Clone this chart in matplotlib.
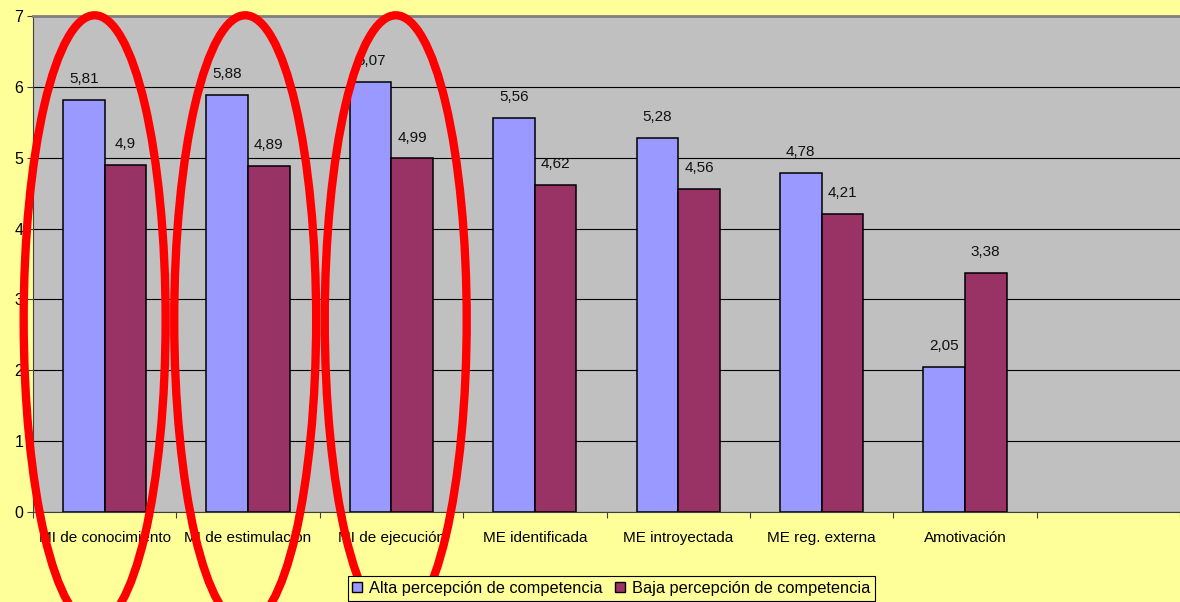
## Bar chart: motivation scores by perceived competence (alta vs baja)

import numpy as np
import matplotlib
matplotlib.use("Agg")
import matplotlib.pyplot as plt
from matplotlib.patches import Ellipse, Patch

categories = ["MI de conocimiento", "MI de estimulación", "MI de ejecución",
              "ME identificada", "ME introyectada", "ME reg. externa", "Amotivación"]
alta = [5.81, 5.88, 6.07, 5.56, 5.28, 4.78, 2.05]
baja = [4.9, 4.89, 4.99, 4.62, 4.56, 4.21, 3.38]
series_names = ["Alta percepción de competencia", "Baja percepción de competencia"]
circled = [0, 1, 2]

plt.rcParams['font.family'] = ['Liberation Sans', 'DejaVu Sans']

def fmt(v):
    return ("%g" % v).replace(".", ",")

fig = plt.figure(figsize=(11.8, 6.02), dpi=100, facecolor="#FFFF99")
ax = fig.add_axes([33/1180, 90/602, 1 - 33/1180, 496/602])
ax.set_facecolor("#C0C0C0")

x = np.arange(len(categories))
w = 0.29
b1 = ax.bar(x - w/2, alta, w, color="#9999FF", edgecolor="black", linewidth=1.1, zorder=3)
b2 = ax.bar(x + w/2, baja, w, color="#993366", edgecolor="black", linewidth=1.1, zorder=3)

for bars, vals in ((b1, alta), (b2, baja)):
    for r, v in zip(bars, vals):
        ax.annotate(fmt(v), (r.get_x() + r.get_width()/2, v), xytext=(0, 10),
                    textcoords="offset points", ha="center", va="bottom",
                    fontsize=11, color="#111111", zorder=4)

ax.set_xlim(-0.5, 7.46)
ax.set_ylim(0, 7)
ax.set_yticks(range(8))
ax.yaxis.grid(True, color="black", linewidth=0.8, zorder=1)
ax.tick_params(axis="y", labelsize=11.5, length=4, width=0.8, color="#404040", pad=3)

ax.set_xticks(x)
ax.set_xticklabels(categories, fontsize=11)
ax.tick_params(axis="x", which="major", length=0, pad=14)
ax.set_xticks(np.arange(-0.5, 8, 1), minor=True)
ax.tick_params(axis="x", which="minor", length=4, width=0.8, color="#404040")

ax.spines["left"].set_color("#404040")
ax.spines["bottom"].set_color("#404040")
ax.spines["top"].set_color("#808080")
ax.spines["top"].set_linewidth(2)
ax.spines["right"].set_visible(False)

# red ellipses around the intrinsic-motivation groups
offsets = [-0.07, -0.02, 0.03]
for i, off in zip(circled, offsets):
    e = Ellipse((i + off, 2.71), 0.99, 8.6, fill=False, edgecolor="#FF0000",
                linewidth=6, clip_on=False, zorder=10)
    ax.add_patch(e)

handles = [Patch(facecolor="#9999FF", edgecolor="black"),
           Patch(facecolor="#993366", edgecolor="black")]
leg = fig.legend(handles, series_names, loc="upper center", bbox_to_anchor=(0.518, 0.043),
                 ncol=2, fontsize=11.8, frameon=True, fancybox=False, facecolor="#FFFF99",
                 edgecolor="black", framealpha=1, handlelength=0.6, handleheight=0.6,
                 handletextpad=0.4, columnspacing=0.8, borderpad=0.3, borderaxespad=0)
leg.get_frame().set_linewidth(0.8)

fig.savefig("out.png", dpi=100, facecolor=fig.get_facecolor())
